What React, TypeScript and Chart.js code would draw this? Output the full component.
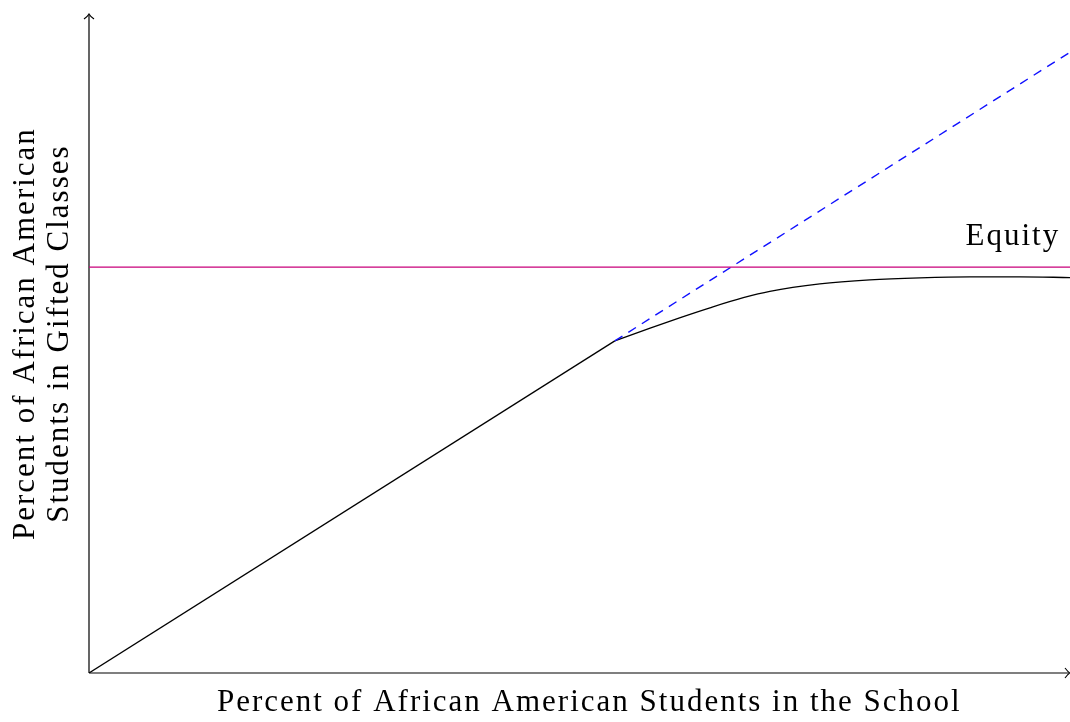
import React, { useEffect, useRef } from "react";
import { Chart, registerables } from "chart.js";

Chart.register(...registerables);

// ---- data (percent units on both axes, 0..100) ----
const riseX = [0, 53.6];
const riseY = [0, 50.4];
const plateauX = [53.6, 57.2, 60.2, 63.3, 66.7, 69.4, 74.5, 79.6, 84.7, 89.8, 94.9, 100];
const plateauY = [50.4, 52.34, 53.9, 55.42, 56.95, 57.92, 59.04, 59.65, 59.96, 60.11, 60.11, 60.01];
const trendX = [53.6, 100];
const trendY = [50.4, 94.2];
const equityX = [0, 100];
const equityY = [61.6, 61.6];

const equityLabel = "Equity";
const xTitle = "Percent of African American Students in the School";
const yTitleLines = ["Percent of African American", "Students in Gifted Classes"];

const pts = (xs: number[], ys: number[]) => xs.map((x, i) => ({ x, y: ys[i] }));

const FONT = '31px "Liberation Serif"';

const decorPlugin = {
  id: "decor",
  beforeDatasetsDraw(chart: any) {
    const { ctx, chartArea } = chart;
    const x0 = chartArea.left;
    const y0 = chartArea.bottom;
    const x1 = chartArea.right;
    const y1 = chartArea.top;
    ctx.save();
    ctx.strokeStyle = "#000";
    ctx.lineWidth = 1.2;
    ctx.beginPath();
    ctx.moveTo(x0, y0);
    ctx.lineTo(x1 - 1, y0);
    ctx.moveTo(x0, y0);
    ctx.lineTo(x0, y1 + 1);
    ctx.stroke();
    // arrow heads (TikZ "to" style)
    ctx.lineWidth = 1.1;
    ctx.beginPath();
    ctx.moveTo(x1 - 5, y0 - 5);
    ctx.quadraticCurveTo(x1 - 2, y0 - 1, x1, y0);
    ctx.quadraticCurveTo(x1 - 2, y0 + 1, x1 - 5, y0 + 5);
    ctx.moveTo(x0 - 5, y1 + 5);
    ctx.quadraticCurveTo(x0 - 1, y1 + 2, x0, y1);
    ctx.quadraticCurveTo(x0 + 1, y1 + 2, x0 + 5, y1 + 5);
    ctx.stroke();
    ctx.restore();
  },
  afterDraw(chart: any) {
    const { ctx } = chart;
    const xs = chart.scales.x;
    const ys = chart.scales.y;
    ctx.save();
    ctx.fillStyle = "#000";
    ctx.font = FONT;
    try { (ctx as any).letterSpacing = "2px"; } catch (e) {}
    ctx.textBaseline = "alphabetic";
    // x title
    ctx.textAlign = "center";
    ctx.fillText(xTitle, xs.getPixelForValue(51), 711);
    // y title (two rotated lines)
    const cy = ys.getPixelForValue(51.5);
    yTitleLines.forEach((line, i) => {
      ctx.save();
      ctx.translate(34 + i * 34, cy);
      ctx.rotate(-Math.PI / 2);
      ctx.textAlign = "center";
      ctx.fillText(line, 0, 0);
      ctx.restore();
    });
    // equity label
    ctx.textAlign = "right";
    ctx.fillText(equityLabel, xs.getPixelForValue(99), ys.getPixelForValue(equityY[1]) - 22);
    ctx.restore();
  },
};

export default function App() {
  const ref = useRef<HTMLCanvasElement | null>(null);
  useEffect(() => {
    if (!ref.current) return;
    const chart = new Chart(ref.current, {
      type: "scatter",
      data: {
        datasets: [
          {
            data: pts(equityX, equityY),
            showLine: true,
            borderColor: "#c8007a",
            borderWidth: 1.2,
            pointRadius: 0,
          },
          {
            data: pts(trendX, trendY),
            showLine: true,
            borderColor: "#1010ff",
            borderWidth: 1.4,
            borderDash: [9, 7],
            pointRadius: 0,
          },
          {
            data: pts(riseX, riseY),
            showLine: true,
            borderColor: "#000",
            borderWidth: 1.3,
            pointRadius: 0,
          },
          {
            data: pts(plateauX, plateauY),
            showLine: true,
            borderColor: "#000",
            borderWidth: 1.3,
            cubicInterpolationMode: "monotone",
            pointRadius: 0,
          },
        ],
      } as any,
      options: {
        animation: false,
        responsive: false,
        maintainAspectRatio: false,
        layout: { padding: { left: 89, right: 0, top: 14, bottom: 49 } },
        plugins: { legend: { display: false }, tooltip: { enabled: false } },
        scales: {
          x: { type: "linear", min: 0, max: 100, display: false },
          y: { type: "linear", min: 0, max: 100, display: false },
        },
      } as any,
      plugins: [decorPlugin],
    });
    return () => chart.destroy();
  }, []);
  return (
    <div style={{ position: "fixed", left: 0, top: 0, width: 1070, height: 722, background: "#fff" }}>
      <canvas ref={ref} width={1070} height={722} style={{ width: 1070, height: 722, display: "block" }} />
    </div>
  );
}
